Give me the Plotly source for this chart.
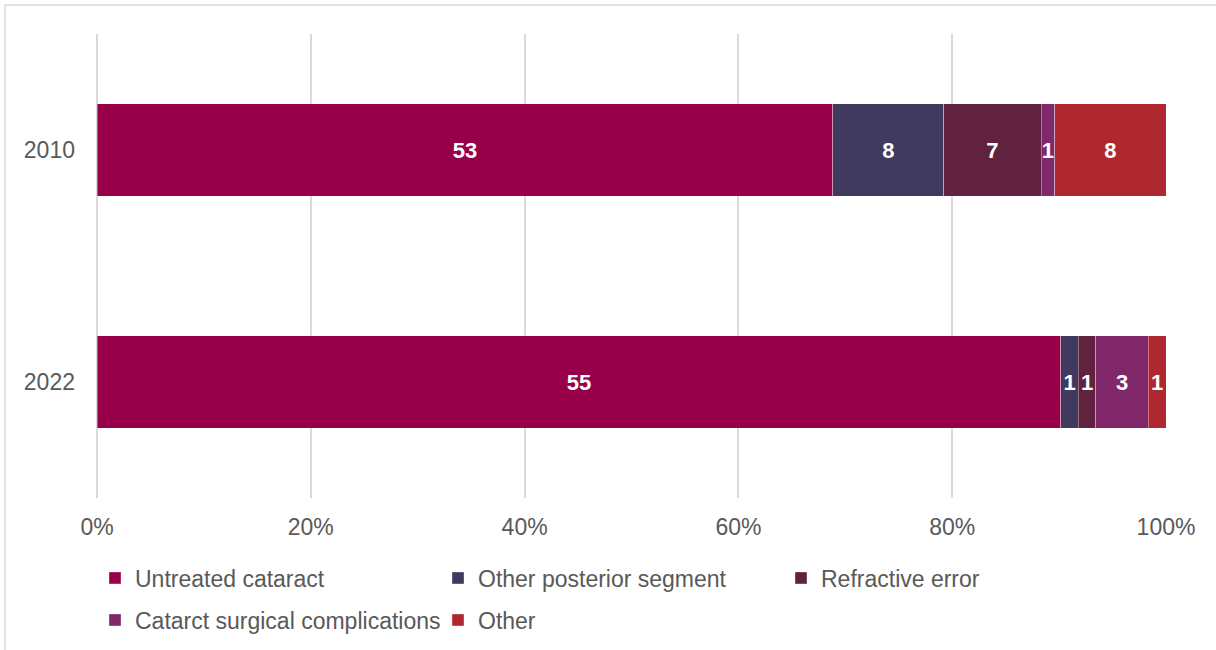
import plotly.graph_objects as go

# Survey years (one horizontal bar each)
years = ["2010", "2022"]

# Counts per cause; bars are normalised to 100%
untreated_cataract = [53, 55]
other_posterior_segment = [8, 1]
refractive_error = [7, 1]
cataract_surgical_complications = [1, 3]
other = [8, 1]

series = [
    ("Untreated cataract", untreated_cataract, "#970048", "legend"),
    ("Other posterior segment", other_posterior_segment, "#403A5F", "legend"),
    ("Refractive error", refractive_error, "#612240", "legend"),
    ("Catarct surgical complications", cataract_surgical_complications, "#80286A", "legend2"),
    ("Other", other, "#B0282F", "legend2"),
]

FONT = "Arial, Liberation Sans, sans-serif"
GREY_TEXT = "#595959"
GRID = "#D9D9D9"

fig = go.Figure()
for name, vals, color, leg in series:
    fig.add_trace(go.Bar(
        name=name,
        y=years,
        x=vals,
        orientation="h",
        marker=dict(color=color, line=dict(color="rgba(255,255,255,0.35)", width=1)),
        text=vals,
        texttemplate="%{text}",
        textposition="inside",
        insidetextanchor="middle",
        textangle=0,
        constraintext="none",
        textfont=dict(family=FONT, size=22, color="white", weight="bold"),
        legend=leg,
        hoverinfo="name+text",
    ))

L, R, T, B = 97, 50, 34, 152
W, H = 1216, 650
pw, ph = W - L - R, H - T - B


def px_x(px):
    return (px - L) / pw


def px_y(py):
    return (H - B - py) / ph


legend_common = dict(
    orientation="h",
    font=dict(family=FONT, size=23, color=GREY_TEXT),
    entrywidth=298,
    entrywidthmode="pixels",
    itemwidth=30,
    bgcolor="rgba(0,0,0,0)",
    xanchor="left",
    yanchor="middle",
    traceorder="normal",
)

fig.update_layout(
    width=W,
    height=H,
    margin=dict(l=L, r=R, t=T, b=B, autoexpand=False),
    paper_bgcolor="white",
    plot_bgcolor="white",
    barmode="stack",
    barnorm="percent",
    bargap=0.6,
    font=dict(family=FONT, color=GREY_TEXT),
    xaxis=dict(
        range=[0, 100],
        dtick=20,
        ticksuffix="%",
        showgrid=True,
        gridcolor=GRID,
        gridwidth=1.5,
        zeroline=True,
        zerolinecolor=GRID,
        zerolinewidth=1.5,
        showline=False,
        ticks="",
        ticklabelstandoff=13,
        tickfont=dict(family=FONT, size=23, color=GREY_TEXT),
        fixedrange=True,
    ),
    yaxis=dict(
        autorange="reversed",
        showgrid=False,
        showline=False,
        ticks="",
        ticklabelstandoff=21,
        tickfont=dict(family=FONT, size=23, color=GREY_TEXT),
        fixedrange=True,
    ),
    legend=dict(x=px_x(95), y=px_y(578), **legend_common),
    legend2=dict(x=px_x(95), y=px_y(620), **legend_common),
    showlegend=True,
    shapes=[
        dict(
            type="rect",
            xref="paper", yref="paper",
            x0=px_x(5), x1=px_x(1230),
            y0=px_y(665), y1=px_y(5),
            line=dict(color=GRID, width=1.5),
            fillcolor="rgba(0,0,0,0)",
            layer="below",
        )
    ],
)

fig.write_html("out.html")
